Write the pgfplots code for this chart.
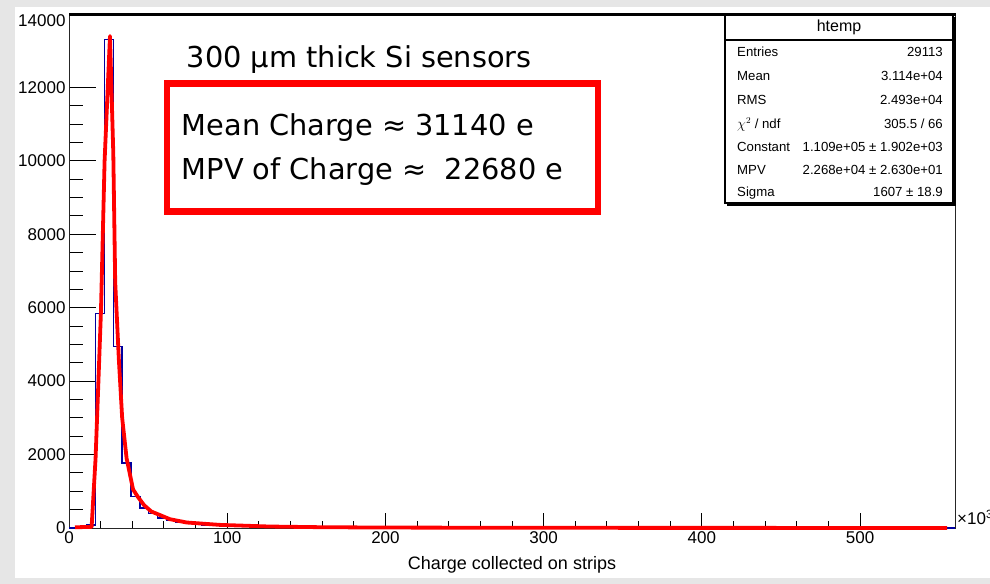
\documentclass[border=0pt]{standalone}
\usepackage{fontspec}
\setmainfont{Liberation Sans}
\newfontfamily\dejavu{DejaVu Sans}
\usepackage{pgfplots}
\pgfplotsset{compat=1.18}
\definecolor{rootblue}{RGB}{0,0,160}
\definecolor{pagegray}{RGB}{230,230,230}

% histogram of the collected charge (x in units of 10^3 e), bins of 5.6
\pgfplotstableread{
x y
0 0
5.6 0
11.2 80
16.8 5850
22.4 13300
28 4950
33.6 1770
39.2 853
44.8 540
50.4 390
56 270
61.6 200
67.2 155
72.8 122
78.4 98
84 82
89.6 68
95.2 58
100.8 50
106.4 44
112 38
117.6 34
123.2 30
128.8 27
134.4 24
140 22
145.6 20
151.2 18
156.8 16
162.4 15
168 14
173.6 13
179.2 12
184.8 11
190.4 10
196 9
201.6 9
207.2 8
212.8 8
218.4 7
224 7
229.6 7
235.2 6
240.8 6
246.4 6
252 5
257.6 5
263.2 5
268.8 5
274.4 4
280 4
285.6 4
291.2 4
296.8 4
302.4 3
308 3
313.6 3
319.2 3
324.8 3
330.4 3
336 3
341.6 2
347.2 2
352.8 2
358.4 2
364 2
369.6 2
375.2 2
380.8 2
386.4 2
392 2
397.6 2
403.2 1
408.8 2
414.4 1
420 1
425.6 1
431.2 1
436.8 1
442.4 1
448 1
453.6 1
459.2 1
464.8 1
470.4 1
476 1
481.6 1
487.2 1
492.8 1
498.4 1
504 1
509.6 1
515.2 1
520.8 1
526.4 1
532 1
537.6 1
543.2 1
548.8 1
554.4 1
560 1
}\histdata

% Landau fit curve
\pgfplotstableread{
x y
3.8 20
14.3 30
16.8 1900
18.6 4000
20.2 5900
22.5 10000
25.9 13400
28.0 10200
29.2 6700
31.5 4600
33.6 3000
36.4 1900
40.5 1050
43.5 850
47.5 620
52 450
63.8 240
74.3 150
95.3 85
126.9 40
158.5 22
200 12
300 5
400 3
555 2
}\fitdata

\begin{document}
\begin{tikzpicture}
\useasboundingbox (0,0) rectangle (990bp,584bp);
\fill[pagegray] (0,0) rectangle (990bp,584bp);
\fill[white] (15bp,6bp) rectangle (990bp,577bp);

\pgfplotsset{
  rootframe/.style={
    at={(69bp,56bp)}, anchor=south west,
    scale only axis, width=886bp, height=514bp,
    xmin=0, xmax=560, ymin=0, ymax=14000,
    scaled x ticks=false, scaled y ticks=false,
    tick pos=left, tick align=inside,
    every tick/.style={black, line width=0.9bp},
    ticklabel style={font=\fontsize{17bp}{20bp}\selectfont},
    /pgf/number format/assume math mode=true,
    /pgf/number format/set thousands separator={},
  }
}

% x ticks (shorter than the y ticks)
\begin{axis}[rootframe,
  axis line style={draw=none},
  ytick=\empty,
  xtick={0,100,...,500}, minor x tick num=4,
  major tick length=15bp, minor tick length=7bp,
]
\end{axis}

% frame, y ticks and data
\begin{axis}[rootframe,
  clip=false,
  axis line style={black!85, line width=0.9bp},
  xtick=\empty,
  ytick={0,2000,...,12000}, minor y tick num=3,
  extra y ticks={14000},
  extra y tick style={yticklabel style={yshift=-7bp}},
  major tick length=27bp, minor tick length=14bp,
]
\addplot[const plot, rootblue, line width=1.4bp] table[x=x, y=y] {\histdata};
\addplot[red, line width=3.8bp, line join=round] table[x=x, y=y] {\fitdata};
\end{axis}

\begin{scope}[x=1bp, y=-1bp, shift={(0bp,584bp)}]
  % top edge of the frame
  \draw[line width=2.4bp] (69,14.5) -- (956,14.5);

  % statistics box
  \fill[white] (725,16) rectangle (953,203);
  \draw[line width=1.3bp] (725,15.5) rectangle (953,203);
  \draw[line width=2.4bp] (954.5,17) -- (954.5,204.5) -- (727,204.5);
  \draw[line width=2bp] (725,40) -- (953,40);
  \node[font=\fontsize{16bp}{18bp}\selectfont] at (839,27.5) {htemp};
  \begin{scope}[every node/.style={font=\fontsize{13.2bp}{16bp}\selectfont, inner sep=0pt}]
    \node[anchor=base west] at (737,56.7) {Entries};
    \node[anchor=base east] at (943,56.7) {29113};
    \node[anchor=base west] at (737,80.7) {Mean};
    \node[anchor=base east] at (943,80.7) {3.114e+04};
    \node[anchor=base west] at (737,104.3) {RMS};
    \node[anchor=base east] at (943,104.3) {2.493e+04};
    \node[anchor=base west] at (737,128.3) {$\chi^{2}$ / ndf};
    \node[anchor=base east] at (943,128.3) {305.5 / 66};
    \node[anchor=base west] at (737,151.7) {Constant};
    \node[anchor=base east] at (943,151.7) {1.109e+05 ± 1.902e+03};
    \node[anchor=base west] at (737,175) {MPV};
    \node[anchor=base east] at (943,175) {2.268e+04 ± 2.630e+01};
    \node[anchor=base west] at (737,196.7) {Sigma};
    \node[anchor=base east] at (943,196.7) {1607 ± 18.9};
  \end{scope}

  % annotations
  \draw[red, line width=6.5bp] (167,83.5) rectangle (598,211.5);
  \begin{scope}[every node/.style={font=\dejavu\fontsize{28.8bp}{34bp}\selectfont, inner sep=0pt, anchor=base west}]
    \node at (186.7,67.3) {300 µm thick Si sensors};
    \node at (181.7,136) {Mean Charge ≈ 31140 e};
    \node at (181.7,179.3) {MPV of Charge ≈~~22680 e};
  \end{scope}

  % axis title and exponent
  \node[anchor=base, font=\fontsize{18bp}{20bp}\selectfont] at (512,569.3) {Charge collected on strips};
  \node[anchor=base west, inner sep=0pt, font=\fontsize{17bp}{20bp}\selectfont] at (957,525) {×10\textsuperscript{3}};
\end{scope}
\end{tikzpicture}
\end{document}
